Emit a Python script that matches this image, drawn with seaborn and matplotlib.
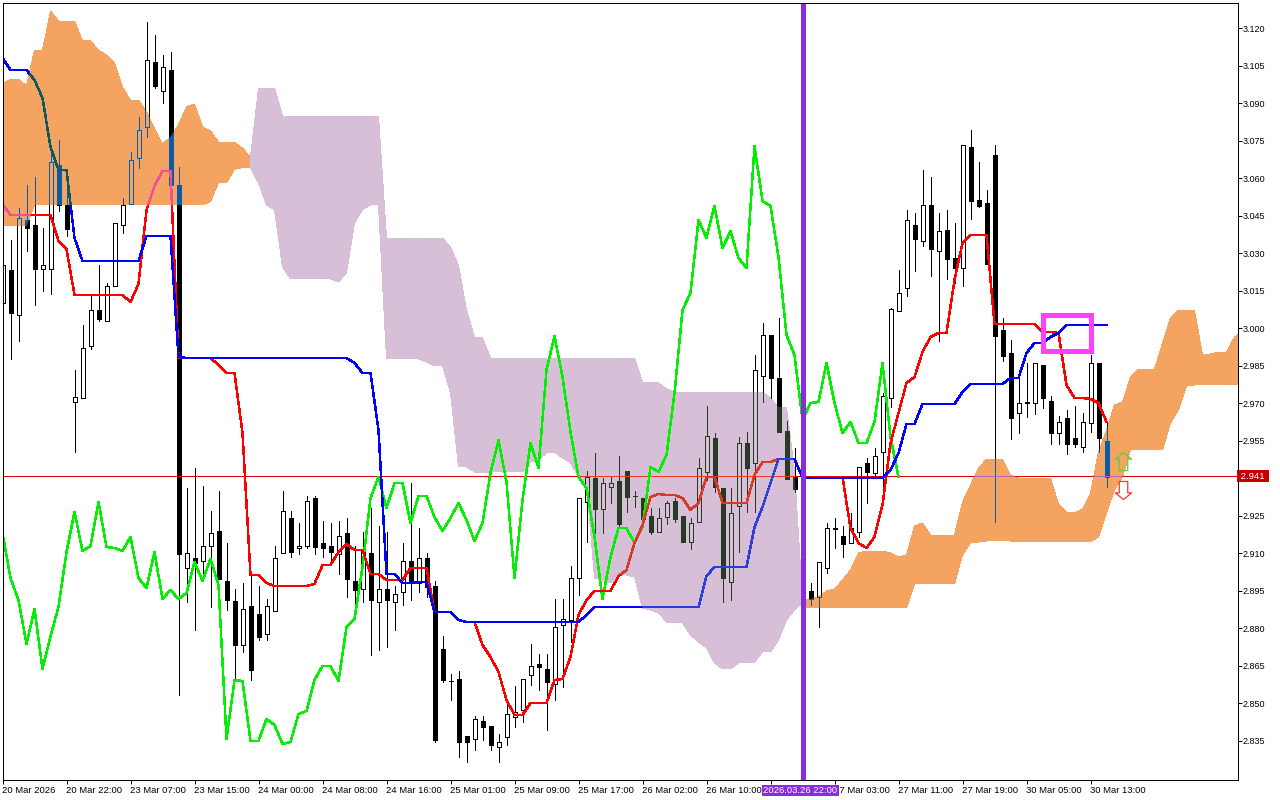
import numpy as np
import matplotlib
matplotlib.use("Agg")
import matplotlib.pyplot as plt
from matplotlib.path import Path
from matplotlib.patches import Rectangle
import seaborn as sns

# ---------- data (prices, one value per hourly bar) ----------
open_ = [3.0101,3.0233,3.0053,3.0433,3.0413,3.0237,3.0237,3.0653,3.0493,2.9705,
2.9721,2.9929,3.0073,3.0029,3.0169,3.0413,3.0497,3.0681,3.0805,3.1065,
3.0949,3.1033,3.0573,2.9041,2.9081,2.9069,2.9129,2.9189,2.8989,2.8909,
2.8733,2.8889,2.8857,2.8777,2.8869,2.9101,2.9241,2.9121,2.9129,2.9321,
2.9141,2.9129,2.9097,2.9181,2.8989,2.8957,2.9101,2.8905,2.8957,2.8905,
2.8945,2.9069,2.8981,2.9081,2.8969,2.8717,2.8591,2.8597,2.8369,2.8357,
2.8429,2.8409,2.8325,2.8365,2.8445,2.8473,2.8613,2.8657,2.8637,2.8577,
2.8813,2.8833,2.9001,2.9305,2.9401,2.9277,2.9365,2.9389,2.9429,2.9331,
2.9321,2.9249,2.9185,2.9245,2.9309,2.9249,2.9145,2.9225,2.9425,2.9561,
2.9361,2.8985,2.9289,2.9541,2.9461,2.9809,2.9973,2.9801,2.9589,2.9405,
2.9393,2.8949,2.8925,2.9041,2.9203,2.9169,2.9141,2.9185,2.9461,2.9421,
2.9505,2.9721,3.0069,3.0161,3.0413,3.0349,3.0493,3.0309,3.0393,3.0281,
3.0241,3.0725,3.0513,3.0501,3.0693,2.9993,2.9901,2.9661,2.9707,2.9701,
2.9853,2.9709,2.9581,2.9641,2.9561,2.9525,2.9621,2.9861,2.9549]
close = [3.0253,3.0061,3.0441,3.0401,3.0237,3.0253,3.0665,3.0493,3.0397,2.9725,
2.9921,3.0073,3.0037,3.0169,3.0421,3.0493,3.0673,3.0793,3.1073,3.0969,
3.1045,3.0573,2.9097,2.9101,2.9061,2.9129,2.9181,2.8997,2.8913,2.8733,
2.8877,2.8633,2.8765,2.8889,2.9081,2.9269,2.9105,2.9129,2.9309,2.9125,
2.9121,2.9105,2.9169,2.8997,2.8953,2.9113,2.8913,2.8957,2.8913,2.8937,
2.9069,2.8981,2.9081,2.8965,2.8353,2.8593,2.8589,2.8345,2.8345,2.8437,
2.8405,2.8333,2.8345,2.8457,2.8465,2.8597,2.8649,2.8645,2.8585,2.8805,
2.8837,2.9001,2.9321,2.9405,2.9277,2.9381,2.9381,2.9217,2.9325,2.9329,
2.9237,2.9185,2.9241,2.9301,2.9237,2.9145,2.9221,2.9441,2.9569,2.9365,
2.9001,2.9261,2.9541,2.9441,2.9833,2.9973,2.9801,2.9585,2.9397,2.9357,
2.9361,2.8917,2.9065,2.9201,2.9199,2.9137,2.9201,2.9445,2.9425,2.9489,
2.9729,3.0077,3.0141,3.0433,3.0357,3.0493,3.0317,3.0389,3.0277,3.0241,
3.0733,3.0509,3.0489,3.0257,2.9969,2.9889,2.9641,2.9701,2.9703,2.9861,
2.9721,2.9581,2.9625,2.9537,2.9537,2.9625,2.9861,2.9561,2.9405]
high = [3.0293,3.0353,3.0481,3.0573,3.0605,3.0401,3.0705,3.0753,3.0633,2.9833,
3.0013,3.0133,3.0253,3.0181,3.0421,3.0521,3.0705,3.0845,3.1225,3.1173,
3.1093,3.1105,3.0645,2.9361,2.9441,2.9369,2.9269,2.9349,2.9141,2.8957,
2.8981,2.9013,2.8969,2.8917,2.9129,2.9349,2.9269,2.9221,2.9329,2.9329,
2.9229,2.9221,2.9229,2.9241,2.9129,2.9185,2.9281,2.9209,2.9185,2.8969,
2.9141,2.9381,2.9201,2.9101,2.8989,2.8769,2.8617,2.8629,2.8369,2.8449,
2.8449,2.8409,2.8377,2.8497,2.8569,2.8597,2.8737,2.8697,2.8697,2.8917,
2.8917,2.9049,2.9321,2.9429,2.9501,2.9401,2.9409,2.9489,2.9429,2.9349,
2.9321,2.9281,2.9281,2.9309,2.9321,2.9249,2.9241,2.9481,2.9689,2.9581,
2.9361,2.9361,2.9565,2.9585,2.9893,3.0021,2.9973,3.0041,2.9629,2.9521,
2.9409,2.8981,2.9065,2.9221,2.9241,2.9209,2.9261,2.9445,2.9481,2.9521,
2.9741,3.0081,3.0233,3.0473,3.0461,3.0633,3.0605,3.0461,3.0473,3.0421,
3.0733,3.0793,3.0665,3.0553,3.0733,3.0041,2.9953,2.9801,2.9861,2.9861,
2.9853,2.9729,2.9649,2.9673,2.9689,2.9661,2.9893,2.9861,2.9621]
low = [3.0073,2.9877,2.9949,3.0309,3.0093,3.0149,3.0137,3.0469,3.0369,2.9505,
2.9721,2.9917,3.0029,3.0029,3.0169,3.0381,3.0497,3.0641,3.0765,3.0961,
3.0901,3.0517,2.8533,2.8905,2.8793,2.9005,2.8885,2.8997,2.8873,2.8593,
2.8705,2.8593,2.8753,2.8753,2.8869,2.9101,2.9085,2.9097,2.9121,2.9097,
2.9085,2.9053,2.9017,2.8925,2.8893,2.8905,2.8693,2.8713,2.8725,2.8793,
2.8893,2.8913,2.8945,2.8925,2.8345,2.8585,2.8513,2.8285,2.8265,2.8313,
2.8353,2.8313,2.8265,2.8333,2.8405,2.8425,2.8573,2.8553,2.8393,2.8513,
2.8565,2.8745,2.8933,2.9145,2.9181,2.9181,2.9301,2.9201,2.9265,2.9285,
2.9237,2.9177,2.9185,2.9217,2.9225,2.9145,2.9117,2.9225,2.9393,2.9345,
2.8905,2.8913,2.9105,2.9265,2.9265,2.9705,2.9721,2.9585,2.9397,2.9345,
2.9345,2.8893,2.8805,2.9021,2.9121,2.9085,2.9141,2.9165,2.9301,2.9405,
2.9325,2.9685,3.0069,3.0129,3.0229,3.0329,3.0209,2.9949,3.0197,3.0181,
3.0169,3.0437,3.0485,3.0257,2.9225,2.9869,2.9557,2.9581,2.9645,2.9657,
2.9681,2.9537,2.9537,2.9497,2.9525,2.9505,2.9585,2.9505,2.9365]

tenkan = [3.0497,3.0453,3.0453,3.0453,3.0453,3.0453,3.0453,3.0349,3.0317,3.0133,
3.0133,3.0133,3.0133,3.0133,3.0133,3.0133,3.0105,3.0177,3.0473,3.0569,
3.0629,3.0629,2.9881,2.9881,2.9881,2.9881,2.9881,2.9853,2.9821,2.9821,
2.9581,2.9013,2.9013,2.8981,2.8969,2.8969,2.8969,2.8969,2.8969,2.8977,
2.9053,2.9053,2.9105,2.9137,2.9113,2.9113,2.9017,2.9017,2.8993,2.8993,
2.8993,2.9041,2.9041,2.9041,2.8865,2.8865,2.8865,2.8833,2.8825,2.8825,
2.8733,2.8685,2.8625,2.8513,2.8453,2.8453,2.8501,2.8501,2.8501,2.8593,
2.8597,2.8685,2.8853,2.8913,2.8949,2.8949,2.8949,2.9009,2.9033,2.9141,
2.9213,2.9325,2.9337,2.9333,2.9333,2.9321,2.9273,2.9301,2.9405,2.9405,
2.9301,2.9301,2.9301,2.9301,2.9413,2.9465,2.9465,2.9477,2.9477,2.9477,
2.9405,2.9405,2.9405,2.9405,2.9405,2.9405,2.9201,2.9141,2.9121,2.9165,
2.9293,2.9541,2.9661,2.9781,2.9805,2.9905,2.9965,2.9981,2.9981,3.0193,
3.0341,3.0373,3.0373,3.0373,3.0017,3.0017,3.0017,3.0017,3.0017,3.0017,
2.9985,2.9985,2.9981,2.9773,2.9721,2.9721,2.9717,2.9701,2.9625]

kijun = [3.1081,3.1033,3.1033,3.1033,3.0993,3.0921,3.0725,3.0633,3.0633,3.0361,
3.0269,3.0269,3.0269,3.0269,3.0269,3.0269,3.0269,3.0269,3.0369,3.0369,
3.0369,3.0369,2.9885,2.9881,2.9881,2.9881,2.9881,2.9881,2.9881,2.9881,
2.9881,2.9881,2.9881,2.9881,2.9881,2.9881,2.9881,2.9881,2.9881,2.9881,
2.9881,2.9881,2.9881,2.9881,2.9861,2.9821,2.9821,2.9593,2.9017,2.9017,
2.8981,2.8981,2.8985,2.8985,2.8865,2.8865,2.8865,2.8833,2.8825,2.8825,
2.8825,2.8825,2.8825,2.8825,2.8825,2.8825,2.8825,2.8825,2.8825,2.8825,
2.8825,2.8825,2.8825,2.8853,2.8885,2.8885,2.8885,2.8885,2.8885,2.8885,
2.8885,2.8885,2.8885,2.8885,2.8885,2.8885,2.8885,2.8885,2.9009,2.9045,
2.9045,2.9045,2.9045,2.9045,2.9205,2.9285,2.9381,2.9477,2.9477,2.9477,
2.9401,2.9401,2.9401,2.9401,2.9401,2.9401,2.9401,2.9401,2.9401,2.9401,
2.9401,2.9433,2.9501,2.9617,2.9617,2.9697,2.9697,2.9697,2.9697,2.9697,
2.9745,2.9777,2.9777,2.9777,2.9777,2.9777,2.9801,2.9801,2.9901,2.9941,
2.9941,2.9965,2.9981,3.0013,3.0013,3.0013,3.0013,3.0013,3.0013]

chikou = [2.9181,2.9001,2.8913,2.8737,2.8877,2.8637,2.8769,2.8885,2.9105,2.9265,
2.9109,2.9129,2.9305,2.9125,2.9121,2.9109,2.9165,2.9001,2.8961,2.9105,
2.8917,2.8953,2.8917,2.8941,2.9065,2.8989,2.9077,2.8973,2.8357,2.8593,
2.8589,2.8349,2.8349,2.8437,2.8413,2.8337,2.8345,2.8457,2.8469,2.8593,
2.8649,2.8649,2.8589,2.8805,2.8837,2.9045,2.9321,2.9405,2.9281,2.9381,
2.9381,2.9221,2.9329,2.9329,2.9245,2.9189,2.9241,2.9301,2.9233,2.9149,
2.9221,2.9421,2.9553,2.9385,2.9001,2.9313,2.9541,2.9441,2.9833,2.9969,
2.9805,2.9585,2.9405,2.9361,2.9165,2.8917,2.9085,2.9201,2.9201,2.9141,
2.9205,2.9445,2.9425,2.9493,2.9741,3.0073,3.0141,3.0433,3.0361,3.0489,
3.0321,3.0389,3.0281,3.0241,3.0729,3.0509,3.0489,3.0285,2.9973,2.9893,
2.9633,2.9701,2.9705,2.9861,2.9701,2.9581,2.9625,2.9541,2.9541,2.9625,
2.9861,2.9565,2.9405]

# first orange cloud: bars 0..31
cloud1_top = [3.0980,3.0996,3.0996,3.0969,3.1113,3.1113,3.1269,3.1229,3.1229,3.1229,
3.1150,3.1150,3.1113,3.1093,3.1060,3.0964,3.0913,3.0913,3.0866,3.0800,
3.0737,3.0766,3.0813,3.0886,3.0897,3.0806,3.0790,3.0745,3.0745,3.0745,
3.0720,3.0686]
cloud1_bot = [3.0409,3.0409,3.0409,3.0409,3.0493,3.0493,3.0493,3.0493,3.0493,3.0493,
3.0493,3.0493,3.0493,3.0493,3.0493,3.0493,3.0493,3.0493,3.0493,3.0493,
3.0493,3.0493,3.0493,3.0493,3.0493,3.0493,3.0506,3.0582,3.0582,3.0636,
3.0642,3.0642]
# thistle cloud: bars 31..100
cloud2_top = [3.0685,3.0961,3.0961,3.0961,3.0849,3.0849,3.0849,3.0849,3.0849,3.0849,
3.0849,3.0849,3.0849,3.0849,3.0849,3.0849,3.0849,3.0361,3.0361,3.0361,
3.0361,3.0361,3.0361,3.0361,3.0361,3.0325,3.0253,3.0073,2.9965,2.9961,
2.9881,2.9881,2.9881,2.9881,2.9881,2.9881,2.9881,2.9881,2.9881,2.9881,
2.9881,2.9881,2.9881,2.9881,2.9881,2.9881,2.9881,2.9881,2.9881,2.9785,
2.9785,2.9781,2.9757,2.9745,2.9745,2.9745,2.9745,2.9745,2.9745,2.9745,
2.9745,2.9745,2.9745,2.9745,2.9745,2.9721,2.9685,2.9685,2.9433,2.8913]
cloud2_bot = [3.0641,3.0581,3.0493,3.0473,3.0245,3.0197,3.0197,3.0197,3.0197,3.0197,
3.0197,3.0185,3.0221,3.0421,3.0473,3.0493,3.0493,2.9877,2.9877,2.9877,
2.9877,2.9877,2.9865,2.9849,2.9849,2.9741,2.9445,2.9445,2.9425,2.9421,
2.9425,2.9425,2.9425,2.9425,2.9425,2.9465,2.9473,2.9501,2.9505,2.9481,
2.9461,2.9405,2.9385,2.9001,2.8993,2.8981,2.9013,2.9013,2.9005,2.8881,
2.8873,2.8861,2.8825,2.8821,2.8821,2.8773,2.8745,2.8721,2.8661,2.8637,
2.8637,2.8661,2.8661,2.8665,2.8705,2.8705,2.8753,2.8833,2.8873,2.8901]
# second orange cloud: bars 100..155
cloud3_top = [2.8917,2.8917,2.8925,2.8949,2.8957,2.8993,2.9033,2.9101,2.9109,2.9109,
2.9109,2.9101,2.9085,2.9093,2.9209,2.9221,2.9173,2.9173,2.9173,2.9173,
2.9305,2.9373,2.9441,2.9477,2.9477,2.9477,2.9413,2.9401,2.9401,2.9401,
2.9401,2.9401,2.9297,2.9265,2.9261,2.9277,2.9341,2.9505,2.9593,2.9693,
2.9705,2.9805,2.9837,2.9837,2.9837,2.9941,3.0041,3.0073,3.0073,3.0073,
2.9893,2.9897,2.9905,2.9905,2.9965,2.9985]
cloud3_bot = [2.8882,2.8882,2.8882,2.8882,2.8882,2.8882,2.8882,2.8882,2.8882,2.8882,
2.8882,2.8882,2.8882,2.8882,2.8977,2.8977,2.8977,2.8977,2.8977,2.8977,
2.9093,2.9141,2.9145,2.9149,2.9149,2.9149,2.9149,2.9145,2.9145,2.9145,
2.9145,2.9145,2.9145,2.9145,2.9145,2.9145,2.9145,2.9165,2.9261,2.9353,
2.9405,2.9513,2.9513,2.9513,2.9513,2.9513,2.9621,2.9673,2.9769,2.9773,
2.9773,2.9773,2.9773,2.9773,2.9773,2.9773]
cloud1_start, cloud2_start, cloud3_start = 0, 31, 100

# the tick at bar 96 sits under the cursor label, so it carries no text
time_labels = ["20 Mar 2026","20 Mar 22:00","23 Mar 07:00","23 Mar 15:00","24 Mar 00:00",
               "24 Mar 08:00","24 Mar 16:00","25 Mar 01:00","25 Mar 09:00","25 Mar 17:00",
               "26 Mar 02:00","26 Mar 10:00","","27 Mar 03:00","27 Mar 11:00",
               "27 Mar 19:00","30 Mar 05:00","30 Mar 13:00"]
time_ticks = [0,8,16,24,32,40,48,56,64,72,80,88,96,104,112,120,128,136]
price_ticks = [2.835,2.850,2.865,2.880,2.895,2.910,2.925,2.955,2.970,2.985,3.000,
               3.015,3.030,3.045,3.060,3.075,3.090,3.105,3.120]
bid_price = 2.9408
bid_label = "2.941"
cursor_bar = 100
cursor_label = "2026.03.26 22:00"
box_bars = (130, 136)
box_prices = (2.9911, 3.0055)
arrow_up = (140, 2.9471)
arrow_down = (140, 2.9355)

# ---------- figure ----------
sns.set_theme(style="white")
plt.rcParams["font.family"] = ["Liberation Sans", "DejaVu Sans"]
W, H = 1280, 800
fig = plt.figure(figsize=(W/100, H/100), dpi=100, facecolor="white")
ax = fig.add_axes([2.5/W, (H-779.5)/H, 1235/W, 777/H])
ax.set_facecolor("white")
PX = 0.72

O, C, Hi, Lo = map(np.array, (open_, close, high, low))
X = np.arange(len(O))
body_top = np.maximum(O, C)
body_bot = np.minimum(O, C)
up = C >= O

def cloud_path(start, top, bot):
    xs = start + np.arange(len(top))
    v = np.r_[np.c_[xs, top], np.c_[xs[::-1], np.array(bot)[::-1]], [[xs[0], top[0]]]]
    return Path(v, closed=True)

orange_clip = Path.make_compound_path(cloud_path(cloud1_start, cloud1_top, cloud1_bot),
                                      cloud_path(cloud3_start, cloud3_top, cloud3_bot))
thistle_clip = cloud_path(cloud2_start, cloud2_top, cloud2_bot)

for start, top, bot, col in [(cloud1_start, cloud1_top, cloud1_bot, "#f4a460"),
                             (cloud2_start, cloud2_top, cloud2_bot, "#d8bfd8"),
                             (cloud3_start, cloud3_top, cloud3_bot, "#f4a460")]:
    xs = start + np.arange(len(top))
    ax.fill_between(xs, bot, top, facecolor=col, edgecolor="none", zorder=1, antialiased=False)

def clip_to(artist, clip):
    if clip is not None:
        artist.set_clip_path(clip, ax.transData)

def candles(color, clip=None, z=2.0):
    lc1 = ax.vlines(X, body_top, Hi, colors=color, lw=PX, zorder=z, antialiased=False)
    lc2 = ax.vlines(X, Lo, body_bot, colors=color, lw=PX, zorder=z, antialiased=False)
    clip_to(lc1, clip); clip_to(lc2, clip)
    heights = body_top - body_bot
    bars = ax.bar(X, heights, bottom=body_bot, width=0.5, zorder=z, linewidth=PX,
                  edgecolor=color, color=color, antialiased=False)
    for b, is_up in zip(bars, up):
        if is_up:
            b.set_facecolor("none")
        clip_to(b, clip)

candles("black")
candles("#0b5ca6", orange_clip, 2.1)
candles("#263a26", thistle_clip, 2.1)

def hline(color, clip=None, z=2.3):
    ln = ax.axhline(bid_price, color=color, lw=PX, zorder=z, antialiased=False)
    clip_to(ln, clip)

hline("#e00000")
hline("#b266b8", orange_clip, 2.35)
hline("#ee3a1e", thistle_clip, 2.35)

def series(vals, color, clip=None, z=3.0):
    v = np.array(vals)
    sns.lineplot(x=np.arange(len(v)), y=v, color=color, linewidth=1.05, ax=ax, legend=False,
                 errorbar=None, zorder=z, antialiased=False)
    clip_to(ax.lines[-1], clip)

series(chikou, "#00f000", None, 3.0)
series(tenkan, "#ff0000", None, 3.1)
series(tenkan, "#f0509a", orange_clip, 3.15)
series(tenkan, "#d83a28", thistle_clip, 3.15)
series(kijun, "#0000ff", None, 3.2)
series(kijun, "#0a5a60", orange_clip, 3.25)
series(kijun, "#2a40d8", thistle_clip, 3.25)

ax.axvline(cursor_bar, color="#8a2be2", lw=5*PX, zorder=4, antialiased=False)
ax.add_patch(Rectangle((box_bars[0], box_prices[0]), box_bars[1]-box_bars[0], box_prices[1]-box_prices[0],
                       fill=False, edgecolor="#ff40ff", lw=5*PX, joinstyle="miter", zorder=5, antialiased=False))

up_arrow = Path([(0,1),(0.9,0.26),(0.47,0.26),(0.47,-1),(-0.47,-1),(-0.47,0.26),(-0.9,0.26),(0,1)], closed=True)
down_arrow = Path([(0,-1),(0.9,-0.26),(0.47,-0.26),(0.47,1),(-0.47,1),(-0.47,-0.26),(-0.9,-0.26),(0,-1)], closed=True)
ax.plot([arrow_up[0]], [arrow_up[1]], marker=up_arrow, ms=13.0, mfc="none", mec="#58d040", mew=0.9, zorder=5, ls="none")
ax.plot([arrow_down[0]], [arrow_down[1]], marker=down_arrow, ms=13.0, mfc="none", mec="#ff3030", mew=0.9, zorder=5, ls="none")

# ---------- axes ----------
ax.set_xlim(0, 1235/8)
ax.set_ylim(2.8195, 3.1303)
for s in ax.spines.values():
    s.set_visible(True)
    s.set_color("black")
    s.set_linewidth(PX)
    s.set_zorder(6)
ax.yaxis.tick_right()
ax.set_yticks(price_ticks)
ax.set_yticklabels([f"{p:.3f}" for p in price_ticks])
ax.set_xticks(time_ticks)
ax.set_xticklabels(time_labels, ha="left")
ax.tick_params(axis="y", length=4*PX, width=PX, color="black", labelsize=6.5, pad=1, labelcolor="black", direction="out", right=True)
ax.tick_params(axis="x", length=4*PX, width=PX, color="black", labelsize=6.8, pad=1.5, labelcolor="black", direction="out", bottom=True)
ax.set_xlabel(""); ax.set_ylabel("")
ax.grid(False)

ax.text(1.0007, bid_price, " " + bid_label + " ", transform=ax.get_yaxis_transform(), ha="left", va="center",
        fontsize=6.8, color="white", zorder=20, clip_on=False,
        bbox=dict(boxstyle="square,pad=0.15", fc="#c80000", ec="#c80000", lw=0))
ax.annotate(cursor_label, xy=(cursor_bar - 0.25, 0), xycoords=ax.get_xaxis_transform(), xytext=(0, -8),
            textcoords="offset points", ha="center", va="center", fontsize=6.8, color="white", zorder=20,
            annotation_clip=False, bbox=dict(boxstyle="square,pad=0.12", fc="#8a2be2", ec="#8a2be2", lw=0))

fig.savefig("out.png", dpi=100, facecolor="white")
